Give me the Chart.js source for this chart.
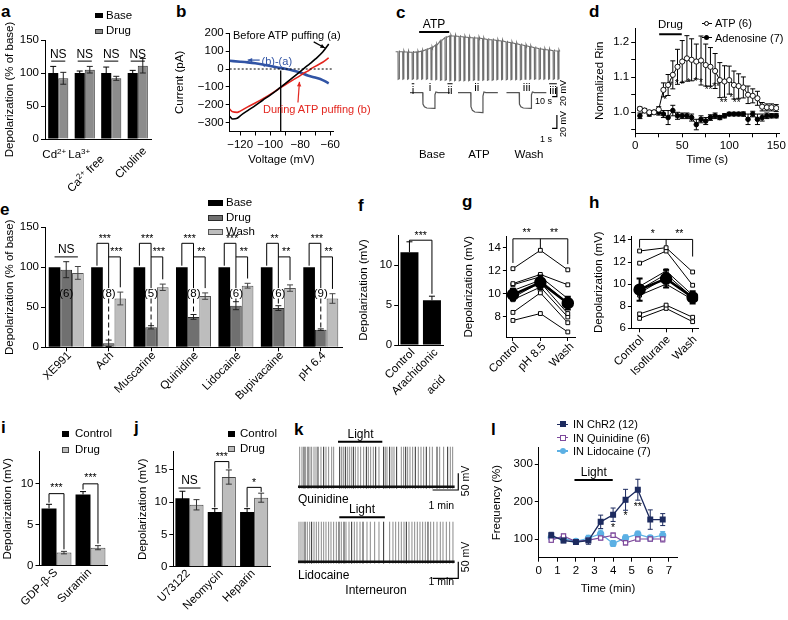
<!DOCTYPE html>
<html><head><meta charset="utf-8">
<script src="https://cdn.jsdelivr.net/npm/chart.js@4.4.1/dist/chart.umd.min.js"></script>
<style>
html,body{margin:0;padding:0;background:#fff;}
body{width:788px;height:620px;position:relative;overflow:hidden;font-family:"Liberation Sans",Arial,Helvetica,sans-serif;}
canvas{position:absolute;}
.t{position:absolute;white-space:nowrap;color:#000;font-size:11.5px;line-height:1;}
.t sup{font-size:8px;vertical-align:4px;line-height:0;}
</style></head><body>
<script>
// ================= DATA =================
// a
const aCats = ['Cd2+', 'La3+', 'Ca2+ free', 'Choline'];
const aBase = [100, 100, 100, 100];
const aBaseErr = [10, 3, 9, 4];
const aDrug = [92, 105, 92, 111];
const aDrugErr = [9, 5, 3, 11];
const aSig = ['NS', 'NS', 'NS', 'NS'];
const aYTicks = [0, 50, 100, 150];
// b
const bVolt = [-127,-125,-122,-120,-115,-110,-105,-100,-95,-93,-90,-85,-80,-78,-75,-73,-70,-65,-61];
const bBefore = [-265,-280,-276,-262,-233,-205,-175,-146,-115,-102,-82,-48,-14,0,20,33,55,95,140];
const bDuring = [-225,-240,-243,-236,-212,-190,-167,-143,-115,-104,-88,-62,-37,-25,-12,0,15,38,62];
const bDiffVolt = [-127,-120,-115,-110,-105,-100,-95,-90,-85,-80,-75,-70,-65,-61];
const bDiff = [46,41,37,32,25,17,9,1,-8,-20,-36,-48,-62,-80];
const bXTicks = [-120,-110,-100,-90,-80,-70,-60];
const bYTicks = [-300,-200,-100,0,100,200];
// c
const cBaseline = [-65,-65,-65.5,-66,-65.5,-63.5,-60.5,-57,-51.5,-43,-36.5,-33.5,-33.5,-34.5,-35.5,-36.5,-37,-37.5,-39,-40.5,-41,-42.5,-43.5,-45.5,-47,-49,-51,-53,-55,-57,-59,-60.5,-61.5,-63,-63.5];
const cPulseBottom = [-120,-120,-120,-120,-120,-120,-120,-121,-121,-122,-122,-123,-123,-123,-123,-123,-122,-122,-122,-122,-122,-121,-121,-121,-121,-121,-121,-120,-120,-120,-120,-120,-120,-120,-120];
const cPulseInterval = 10;
const cATP = [50, 114];
const cInsetTime = [0, 2.65, 2.7, 3.0, 3.5, 5.15, 5.2, 5.4, 5.8, 8.3];
const cInsetBase = [-65,-65,-82,-86,-88,-88.5,-68,-64,-65,-65];
const cInsetATP = [-65,-65,-86,-91.5,-94,-95,-70,-64,-65,-65];
const cInsetWash = [-65,-65,-82,-86,-88,-88.5,-68,-64,-65,-65];
// d
const dTime = [5,10,15,20,25,30,35,40,45,50,55,60,65,70,75,80,85,90,95,100,105,110,115,120,125,130,135,140,145,150];
const dATP = [1.01,1.005,1.0,1.0,1.008,1.064,1.078,1.107,1.13,1.145,1.154,1.15,1.145,1.148,1.135,1.13,1.118,1.092,1.088,1.092,1.078,1.075,1.071,1.05,1.047,1.04,1.016,1.014,1.014,1.012];
const dATPErr = [0.005,0.005,0.005,0.005,0.008,0.02,0.03,0.04,0.05,0.06,0.065,0.06,0.05,0.07,0.06,0.055,0.05,0.05,0.045,0.04,0.04,0.035,0.03,0.025,0.02,0.02,0.012,0.01,0.01,0.01];
const dAdo = [0.99,1.005,0.995,1.0,1.0,0.995,0.985,1.005,0.99,0.99,0.99,0.985,0.965,0.98,0.975,0.985,0.99,0.985,0.99,0.995,0.995,0.995,0.995,0.98,0.995,0.98,0.985,0.99,0.99,0.99];
const dAdoErr = [0.008,0.006,0.006,0.005,0.008,0.01,0.02,0.015,0.01,0.008,0.008,0.01,0.015,0.01,0.01,0.008,0.008,0.006,0.006,0.005,0.005,0.005,0.006,0.015,0.008,0.015,0.01,0.008,0.006,0.006];
const dXTicks = [0,25,50,75,100,125,150];
const dYTicks = [0.95,1.0,1.05,1.1,1.15,1.2];
// e
const eCats = ['XE991','Ach','Muscarine','Quinidine','Lidocaine','Bupivacaine','pH 6.4'];
const eBase = [100,100,100,100,100,100,100];
const eDrug = [97,5,25,38,52,49,22];
const eDrugErr = [10,4,2,3,5,3,1];
const eWash = [93,61,75,64,77,74,61];
const eWashErr = [8,8,4,4,3,4,6];
const eN = ['(6)','(8)','(5)','(8)','(6)','(6)','(9)'];
const eSig1 = ['NS','***','***','***','***','**','***'];
const eSig2 = ['','***','***','**','**','**','**'];
const eYTicks = [0, 50, 100, 150];
// f
const fCats = ['Control', 'Arachidonic acid'];
const fVals = [11.6, 5.6];
const fErr = [1.3, 0.5];
const fYTicks = [0, 5, 10];
// g
const gCats = ['Control','pH 8.5','Wash'];
const gCells = [[12.2,13.8,12.1],[10.9,11.7,10.8],[10.8,11.5,9.6],[10.3,11.2,9.2],[9.7,11.0,8.3],[9.5,10.6,8.0],[8.4,10.1,7.5],[7.7,8.3,6.7]];
const gMean = [9.95,11.0,9.2];
const gMeanErr = [0.5,0.6,0.55];
const gYTicks = [8, 10, 12, 14];
// h
const hCats = ['Control','Isoflurane','Wash'];
const hCells = [[13.0,13.3,11.1],[11.9,13.0,9.9],[9.8,11.2,9.0],[9.5,10.9,8.8],[9.2,10.6,8.7],[9.0,10.0,8.6],[7.3,8.1,7.0],[6.9,7.8,6.6]];
const hMean = [9.5,10.5,8.8];
const hMeanErr = [1.0,0.8,0.55];
const hYTicks = [6, 8, 10, 12, 14];
// i
const iCats = ['GDP-β-S','Suramin'];
const iCtrl = [7.0, 8.7];
const iCtrlErr = [0.5, 0.35];
const iDrug = [1.6, 2.2];
const iDrugErr = [0.15, 0.25];
const iYTicks = [0, 5, 10];
// j
const jCats = ['U73122','Neomycin','Heparin'];
const jCtrl = [10.6, 8.5, 8.5];
const jCtrlErr = [1.1, 0.5, 0.5];
const jDrug = [9.6, 13.9, 10.7];
const jDrugErr = [0.8, 1.1, 0.7];
const jYTicks = [0, 5, 10, 15];
// k (spike times in s)
const kTopGray = [3.9,9.3,17.9,28.0,31.9,37.4,42.1,53.7,65.4,71.6,78.7,83.3,102.0,105.9,115.3,119.9,124.6,134.0,140.2,146.4,153.4,164.3,169.8,176.0,189.2,204.0,207.9,219.6,224.3,241.4,246.9,256.2,261.7,267.9,281.1,287.4,293.6,307.6,313.9,331.0,340.3,355.9,361.4];
const kTopDark = [14.0,23.4,46.7,60.0,97.4,110.6,129.3,159.7,181.5,200.1,214.2,230.5,251.6,274.1,299.8,324.8,349.7];
const kBotGray = [2.3,7.0,11.7,21.8,27.3,37.4,42.8,48.3,54.5,60.0,65.4,71.6,77.1,83.3,89.6,101.2,112.1,119.2,131.6,137.8,144.9,161.2,169.0,179.1,189.2,214.2,221.9,228.2,235.2,241.4,247.7,259.3,266.3,272.6,278.8,285.0,291.3,297.5,310.0,317.0,324.8,332.5,338.8,346.6,354.3,362.1];
const kBotDark = [16.4,31.9,95.8,107.5,125.4,151.9,200.1,253.1,303.7];
const kRest = -60, kPeak = 60, kTraceEnd = 366;
const kLightTop = [93.5, 197];
const kLightBot = [96.5, 203];
// l
const lT = [0.67,1.33,2,2.67,3.33,4,4.67,5.33,6,6.67];
const lChR2 = [110,96,92,96,146,165,205,232,152,152];
const lChR2Err = [8,6,5,10,18,18,28,28,26,16];
const lQuin = [97,108,93,97,103,110,90,100,100,100];
const lQuinErr = [6,5,4,5,6,6,6,5,6,8];
const lLido = [104,101,94,102,114,88,103,113,103,110];
const lLidoErr = [10,8,5,8,10,8,8,8,6,10];
const lLight = [1.92, 3.98];
const lXTicks = [0,1,2,3,4,5,6,7];
const lYTicks = [100, 200, 300];

// ================= SETUP =================
const FONT = '"Liberation Sans", Arial, Helvetica, sans-serif';
Chart.defaults.font.family = FONT;
Chart.defaults.font.size = 11.5;
Chart.defaults.color = '#000';
Chart.defaults.animation = false;
Chart.defaults.responsive = false;
Chart.defaults.maintainAspectRatio = false;
Chart.defaults.devicePixelRatio = 1;
Chart.defaults.events = [];
Chart.defaults.plugins.legend.display = false;
Chart.defaults.plugins.tooltip.enabled = false;

const ANN = {};
function resolveX(chart, v) {
  if (Array.isArray(v)) {
    const ds = v[0], i = v[1], dx = v[2] || 0;
    const f = Math.floor(ds), c = Math.ceil(ds);
    const xf = chart.getDatasetMeta(f).data[i].x, xc = chart.getDatasetMeta(c).data[i].x;
    return xf + (xc - xf) * (ds - f) + dx;
  }
  return chart.scales.x.getPixelForValue(v);
}
const annotPlugin = {
  id: 'annot',
  afterDraw(chart) {
    const items = ANN[chart.canvas.id]; if (!items) return;
    const ctx = chart.ctx, ys = chart.scales.y;
    const Y = v => v === null ? chart.chartArea.bottom : ys.getPixelForValue(v);
    for (const it of items) {
      ctx.save();
      if (it.pts) {
        ctx.beginPath(); ctx.setLineDash(it.dash || []); ctx.strokeStyle = it.color || '#000'; ctx.lineWidth = it.w || 1;
        const P = it.pts.map(p => [resolveX(chart, p[0]), Y(p[1])]);
        P.forEach((p, k) => k ? ctx.lineTo(p[0], p[1]) : ctx.moveTo(p[0], p[1]));
        ctx.stroke();
        if (it.arrow) {
          const a = P[P.length - 2], b = P[P.length - 1];
          const ang = Math.atan2(b[1] - a[1], b[0] - a[0]), L = it.arrow;
          ctx.setLineDash([]); ctx.fillStyle = it.color || '#000';
          ctx.beginPath(); ctx.moveTo(b[0], b[1]);
          ctx.lineTo(b[0] - L * Math.cos(ang - 0.45), b[1] - L * Math.sin(ang - 0.45));
          ctx.lineTo(b[0] - L * Math.cos(ang + 0.45), b[1] - L * Math.sin(ang + 0.45));
          ctx.closePath(); ctx.fill();
        }
      }
      if (it.text !== undefined) {
        const x = resolveX(chart, it.x) + (it.dx || 0), y = Y(it.y) + (it.dy || 0);
        ctx.fillStyle = it.color || '#000'; ctx.textBaseline = 'middle';
        ctx.font = (it.size || 11) + 'px ' + FONT; ctx.textAlign = it.align || 'center';
        ctx.fillText(it.text, x, y);
      }
      ctx.restore();
    }
  }
};
function drawErr(chart, before) {
  const ctx = chart.ctx;
  chart.data.datasets.forEach((ds, di) => {
    if (!ds.errors || (!!ds.errBefore) !== before) return;
    const meta = chart.getDatasetMeta(di);
    const ys = chart.scales[meta.yAxisID];
    ctx.save(); ctx.strokeStyle = ds.errColor || '#000'; ctx.lineWidth = ds.errWidth || 1; ctx.setLineDash([]);
    meta.data.forEach((el, i) => {
      const e = ds.errors[i]; if (!e) return;
      const d = ds.data[i]; const v = (d && typeof d === 'object') ? d.y : d;
      const x = el.x, yt = ys.getPixelForValue(v + e), yb = ys.getPixelForValue(ds.errUp ? v : v - e);
      const c = ds.errCap === undefined ? 3 : ds.errCap;
      ctx.beginPath(); ctx.moveTo(x, yb); ctx.lineTo(x, yt); ctx.moveTo(x - c, yt); ctx.lineTo(x + c, yt);
      if (!ds.errUp) { ctx.moveTo(x - c, yb); ctx.lineTo(x + c, yb); }
      ctx.stroke();
    });
    ctx.restore();
  });
}
const errPlugin = { id: 'errbars', beforeDatasetsDraw(c) { drawErr(c, true); }, afterDatasetsDraw(c) { drawErr(c, false); } };
Chart.register(annotPlugin, errPlugin);

function ax(extra) {
  const base = {
    border: { display: true, color: '#000', width: 1 },
    grid: { display: true, drawOnChartArea: false, drawTicks: true, tickLength: 4, color: '#000', offset: false, lineWidth: 1 },
    ticks: { color: '#000', font: { size: 11.5 }, padding: 2, autoSkip: false, maxRotation: 0, minRotation: 0, includeBounds: false },
  };
  for (const k in extra) {
    if (base[k] && typeof extra[k] === 'object' && !Array.isArray(extra[k])) base[k] = Object.assign({}, base[k], extra[k]);
    else base[k] = extra[k];
  }
  return base;
}
const tk = vals => s => { s.ticks = vals.map(v => ({ value: v })); };
const T = (text) => ({ display: true, text, font: { size: 11.5 }, color: '#000', padding: { top: 4, bottom: 4 } });
const xy = (xs, ys) => xs.map((x, i) => ({ x, y: ys[i] }));
const minus = v => (v < 0 ? '\u2212' : '') + Math.abs(v);

function canvasAt(id, cv) {
  const c = document.createElement('canvas'); c.id = id;
  const w = Math.round(cv[2] - cv[0]), h = Math.round(cv[3] - cv[1]);
  c.width = w; c.height = h; c.style.left = cv[0] + 'px'; c.style.top = cv[1] + 'px';
  c.style.width = w + 'px'; c.style.height = h + 'px';
  document.body.appendChild(c); return [c, w, h];
}
function make(id, cv, pa, cfg) {
  const [c, w, h] = canvasAt(id, cv);
  const o = cfg.options || (cfg.options = {});
  o.layout = { padding: { left: 0, top: pa[1] - cv[1], right: cv[0] + w - pa[2], bottom: 0 } };
  const yW = pa[0] - cv[0], xH = cv[1] + h - pa[3];
  o.scales.y.afterFit = s => { s.width = yW; };
  o.scales.x.afterFit = s => { s.height = xH; };
  const ch = new Chart(c, cfg);
  ch.$cv = cv;
  return ch;
}
function makeRaw(id, cv, xr, yr, datasets) {
  const [c] = canvasAt(id, cv);
  return new Chart(c, { type: 'line', data: { datasets }, options: {
    layout: { padding: 0 }, elements: { point: { radius: 0 } },
    scales: { x: { type: 'linear', display: false, min: xr[0], max: xr[1] }, y: { display: false, min: yr[0], max: yr[1] } } } });
}
function tx(s, x, y, o = {}) {
  const d = document.createElement('div'); d.className = 't';
  if (o.html) d.innerHTML = o.html; else d.textContent = s;
  d.style.left = x + 'px'; d.style.top = y + 'px';
  if (o.size) d.style.fontSize = o.size + 'px';
  if (o.color) d.style.color = o.color;
  if (o.bold) d.style.fontWeight = 'bold';
  if (o.over) { d.style.textDecoration = 'overline'; }
  let tr = o.a === 'tl' ? '' : o.a === 'l' ? 'translate(0,-50%)' : 'translate(-50%,-50%)';
  if (o.rot) tr += ' rotate(' + o.rot + 'deg)';
  d.style.transform = tr;
  document.body.appendChild(d); return d;
}
// rotated category label whose right-middle point sits at (ax, ay) in page coordinates
function rotTxt(s, ax, ay, rot, size) {
  const d = document.createElement('div'); d.className = 't'; d.textContent = s;
  const fs = size || 11.5; d.style.fontSize = fs + 'px';
  d.style.right = (788 - ax) + 'px'; d.style.top = (ay - fs / 2) + 'px';
  d.style.transformOrigin = '100% 50%'; d.style.transform = 'rotate(' + rot + 'deg)';
  document.body.appendChild(d); return d;
}
// place category labels from the chart's own x scale
function catLabels(ch, cats, dx, dy) {
  const cv = ch.$cv;
  cats.forEach((c, i) => rotTxt(c, cv[0] + ch.scales.x.getPixelForValue(i) + dx, cv[1] + ch.chartArea.bottom + dy, -45));
}
function el(x, y, w, h, css) {
  const d = document.createElement('div');
  d.style.cssText = 'position:absolute;box-sizing:border-box;left:' + x + 'px;top:' + y + 'px;width:' + w + 'px;height:' + h + 'px;' + css;
  document.body.appendChild(d); return d;
}
const hideX = () => ax({ ticks: { display: false }, grid: { drawTicks: false, tickLength: 0 } });

// ================= PANEL LETTERS =================
[['a',1,3],['b',176,3],['c',396,4],['d',589,3],['e',0,201],['f',358,197],['g',462,193],['h',589,194],['i',1,419],['j',134,419],['k',294,421],['l',491,421]]
  .forEach(p => tx(p[0], p[1], p[2], { a: 'tl', size: 17, bold: true }));

// ================= a =================
ANN.ca = [];
aCats.forEach((c, i) => {
  ANN.ca.push({ pts: [[[0, i, -2], 118], [[1, i, 2], 118]] });
  ANN.ca.push({ text: aSig[i], x: [0.5, i], y: 128.5, size: 12 });
});
const chA = make('ca', [-1, 18, 156, 200], [45, 40, 151, 139], {
  type: 'bar',
  data: { labels: aCats, datasets: [
    { data: aBase, backgroundColor: '#000', errors: aBaseErr, categoryPercentage: 0.76, barPercentage: 1 },
    { data: aDrug, backgroundColor: '#8c8c8c', borderColor: '#333', borderWidth: 1, errors: aDrugErr, errColor: '#222', categoryPercentage: 0.76, barPercentage: 1 }] },
  options: { scales: {
    x: hideX(),
    y: ax({ min: 0, max: 150, afterBuildTicks: tk(aYTicks), title: T('Depolarization (% of base)') }) } }
});
{ // category labels with superscript charges
  const sx = i => chA.$cv[0] + chA.scales.x.getPixelForValue(i), by = chA.$cv[1] + chA.chartArea.bottom;
  const supHtml = s => s.replace(/(\d?[+-])(?=\s|$)/, '<sup>$1</sup>');
  tx('', sx(0) - 4, by + 16, { html: supHtml(aCats[0]) });
  tx('', sx(1) - 5.5, by + 16, { html: supHtml(aCats[1]) });
  tx('', sx(2) - 25.5, by + 35, { html: supHtml(aCats[2]).replace('Ca2<sup>+</sup>', 'Ca2<sup>+</sup>'), rot: -45 });
  tx('', sx(3) - 7, by + 24, { html: aCats[3], rot: -45 });
}
el(95, 13, 8, 5, 'background:#000'); tx('Base', 106, 15.7, { a: 'l' });
el(95, 28.5, 8, 5, 'background:#8c8c8c;border:1px solid #333'); tx('Drug', 106, 31, { a: 'l' });

// ================= b =================
ANN.cb = [
  { pts: [[-127, 0], [-59, 0]], dash: [2, 2], w: 1 },
  { pts: [[-93, -8], [-93, -350]], w: 1.3 },
  { pts: [[-71, 152], [-63.5, 118]], arrow: 5, w: 1.2 },
  { pts: [[-107, 50], [-115, 50]], arrow: 5, w: 1.2, color: '#3154a5' },
  { pts: [[-81.5, -188], [-80.5, -72]], arrow: 5, w: 1.2, color: '#e3261f' }
];
make('cb', [168.8, 20, 345, 171.2], [229.5, 33.3, 333, 131.5], {
  type: 'line',
  data: { datasets: [
    { data: xy(bVolt, bBefore), borderColor: '#000', borderWidth: 1.6, cubicInterpolationMode: 'monotone' },
    { data: xy(bVolt, bDuring), borderColor: '#e3261f', borderWidth: 1.6, cubicInterpolationMode: 'monotone' },
    { data: xy(bDiffVolt, bDiff), borderColor: '#3154a5', borderWidth: 2.6, cubicInterpolationMode: 'monotone' }] },
  options: { elements: { point: { radius: 0 } }, scales: {
    x: ax({ type: 'linear', min: -127, max: -58, afterBuildTicks: tk(bXTicks), ticks: { callback: v => v % 20 === 0 ? minus(v) : '' }, title: T('Voltage (mV)') }),
    y: ax({ min: -350, max: 200, afterBuildTicks: tk(bYTicks), ticks: { callback: v => minus(v) }, title: T('Current (pA)') }) } }
});
tx('Before ATP puffing (a)', 233, 35, { a: 'l', size: 11 });
tx('(b)-(a)', 261.5, 60.5, { a: 'l', size: 11, color: '#3154a5' });
tx('During ATP puffing (b)', 263, 108.5, { a: 'l', size: 11, color: '#e3261f' });

// ================= c =================
const cTrace = [{ x: 0, y: cBaseline[0] }];
cBaseline.forEach((b, k) => {
  const t = 5 + k * cPulseInterval;
  cTrace.push({ x: t, y: b }, { x: t + 0.3, y: cPulseBottom[k] }, { x: t + 2.2, y: cPulseBottom[k] + 1 }, { x: t + 2.5, y: b + 2.5 }, { x: t + 3.5, y: b });
});
cTrace.push({ x: 350, y: cBaseline[cBaseline.length - 1] });
makeRaw('cc', [390, 25, 565, 100], [-12, 360.3], [-161.6, -11.6], [
  { data: cTrace, borderColor: '#6e6e6e', borderWidth: 1.1 },
  { data: [{ x: cATP[0], y: -25.6 }, { x: cATP[1], y: -25.6 }], borderColor: '#000', borderWidth: 2 },
  { data: [{ x: 333, y: -155 }, { x: 343, y: -155 }, { x: 343, y: -135 }], borderColor: '#000', borderWidth: 1.2 }
]);
const cOff = [0, 10, 20.1];
makeRaw('cc2', [405, 85, 565, 135], [-1.04, 32.29], [-128.4, -53.5], [
  { data: cInsetTime.map((t, j) => ({ x: t + cOff[0], y: cInsetBase[j] })), borderColor: '#555', borderWidth: 1.2 },
  { data: cInsetTime.map((t, j) => ({ x: t + cOff[1], y: cInsetATP[j] })), borderColor: '#555', borderWidth: 1.2 },
  { data: cInsetTime.map((t, j) => ({ x: t + cOff[2], y: cInsetWash[j] })), borderColor: '#555', borderWidth: 1.2 },
  { data: [{ x: 29.6, y: -118.4 }, { x: 30.6, y: -118.4 }, { x: 30.6, y: -98.4 }], borderColor: '#000', borderWidth: 1.2 }
]);
tx('ATP', 434, 24, { size: 12 });
tx('i', 413, 90.5, { over: true }); tx('ii', 450, 90.5, { over: true }); tx('iii', 553, 90.5, { over: true });
tx('i', 430, 87.5); tx('ii', 476.7, 87.5); tx('iii', 526.7, 87.5);
tx('10 s', 543.5, 100.5, { size: 9 }); tx('20 mV', 563, 92.5, { size: 9, rot: -90 });
tx('1 s', 546, 138.5, { size: 9 }); tx('20 mV', 563, 124, { size: 9, rot: -90 });
tx('Base', 432, 155, { size: 11.5 }); tx('ATP', 479, 155, { size: 11.5 }); tx('Wash', 529, 155, { size: 11.5 });

// ================= d =================
ANN.cd = [
  { pts: [[25.5, 1.223], [49.5, 1.223]], w: 2 },
  ...[[32,1.035,'*'],[38,1.075,'*'],[44,1.08,'*'],[50,1.078,'*'],[57,1.082,'*'],[64,1.085,'*'],[70,1.082,'*'],[78,1.062,'**'],[86,1.073,'**'],[94,1.026,'**'],[102,1.04,'*'],[108,1.026,'**']]
    .map(s => ({ text: s[2], x: s[0], y: s[1], size: 10 }))
];
make('cd', [588.8, 18, 788, 171.2], [635, 28.3, 779.4, 133.3], {
  type: 'line',
  data: { datasets: [
    { data: xy(dTime, dATP), borderColor: '#000', borderWidth: 1, pointStyle: 'circle', pointRadius: 2.6, pointBackgroundColor: '#fff', pointBorderColor: '#000', pointBorderWidth: 0.9, errors: dATPErr, errBefore: true, errCap: 2.5 },
    { data: xy(dTime, dAdo), borderColor: '#000', borderWidth: 1, pointStyle: 'circle', pointRadius: 2.3, pointBackgroundColor: '#000', pointBorderColor: '#000', errors: dAdoErr, errBefore: true, errCap: 2.5 }] },
  options: { scales: {
    x: ax({ type: 'linear', min: 0, max: 153, afterBuildTicks: tk(dXTicks), ticks: { callback: v => v % 50 === 0 ? String(v) : '' }, title: T('Time (s)') }),
    y: ax({ min: 0.94, max: 1.24, afterBuildTicks: tk(dYTicks), ticks: { callback: v => { const r = Math.round(v * 10); return Math.abs(v * 10 - r) < 1e-6 ? (r / 10).toFixed(1) : ''; } }, title: T('Normalized Rin') }) } }
});
tx('Drug', 670.5, 25, { size: 11.5 });
el(701.7, 22.8, 10, 1, 'background:#000'); el(704.2, 20.8, 5, 5, 'background:#fff;border:1px solid #000;border-radius:50%'); tx('ATP (6)', 715, 23.3, { a: 'l', size: 11 });
el(701.7, 37.2, 10, 1, 'background:#000'); el(704.2, 35.2, 5, 5, 'background:#000;border-radius:50%'); tx('Adenosine (7)', 715, 37.7, { a: 'l', size: 11 });

// ================= e =================
ANN.ce = [];
eCats.forEach((c, i) => {
  if (i === 0) {
    ANN.ce.push({ pts: [[[0, 0], 113], [[2, 0], 113]] });
    ANN.ce.push({ text: eSig1[0], x: [1, 0], y: 122.5, size: 12 });
  } else {
    ANN.ce.push({ pts: [[[0, i], 102], [[0, i], 130], [[1, i], 130], [[1, i], 74]] });
    ANN.ce.push({ pts: [[[1, i], 61], [[1, i], eDrug[i] + eDrugErr[i]]], dash: [5, 3] });
    ANN.ce.push({ pts: [[[1, i], 113], [[2, i], 113], [[2, i], eWash[i] + eWashErr[i] + 6]] });
    ANN.ce.push({ text: eSig1[i], x: [0.5, i, 2], y: 135.5, size: 10.5 });
    ANN.ce.push({ text: eSig2[i], x: [1.5, i, 2], y: 118.5, size: 10.5 });
  }
  ANN.ce.push({ text: eN[i], x: [1, i], y: 67, size: 11.5 });
});
const chE = make('ce', [-1, 218, 348, 410], [45, 227.3, 342, 347.3], {
  type: 'bar',
  data: { labels: eCats, datasets: [
    { data: eBase, backgroundColor: '#000', categoryPercentage: 0.825, barPercentage: 1 },
    { data: eDrug, backgroundColor: '#707070', borderColor: '#2b2b2b', borderWidth: 1, errors: eDrugErr, errColor: '#222', categoryPercentage: 0.825, barPercentage: 1 },
    { data: eWash, backgroundColor: '#bdbdbd', borderColor: '#555', borderWidth: 1, errors: eWashErr, errColor: '#444', categoryPercentage: 0.825, barPercentage: 1 }] },
  options: { scales: {
    x: ax({ ticks: { display: false } }),
    y: ax({ min: 0, max: 150, afterBuildTicks: tk(eYTicks), title: T('Depolarization (% of base)') }) } }
});
catLabels(chE, eCats, 3, 6);
el(208, 200, 15, 5.5, 'background:#000'); tx('Base', 226, 202.7, { a: 'l' });
el(208, 215, 15, 5.5, 'background:#707070;border:1px solid #2b2b2b'); tx('Drug', 226, 217.7, { a: 'l' });
el(208, 229, 15, 5.5, 'background:#bdbdbd;border:1px solid #555'); tx('Wash', 226, 231.7, { a: 'l' });

// ================= f =================
ANN.cf = [
  { pts: [[[0, 0], 12.9], [[0, 0], 13.1], [[0, 1], 13.1], [[0, 1], 6.4]] },
  { text: '***', x: 0.5, y: 13.55, size: 10.5 }
];
const chF = make('cf', [352.8, 226, 452, 415], [398, 235, 443, 345], {
  type: 'bar',
  data: { labels: fCats, datasets: [{ data: fVals, backgroundColor: '#000', errors: fErr, errUp: true, categoryPercentage: 0.8, barPercentage: 1 }] },
  options: { scales: {
    x: hideX(),
    y: ax({ min: 0, max: 13.75, afterBuildTicks: tk(fYTicks), title: T('Depolarization (mV)') }) } }
});
{
  const fWords = fCats[1].split(' ');
  const sx = i => chF.$cv[0] + chF.scales.x.getPixelForValue(i), by = chF.$cv[1] + chF.chartArea.bottom;
  rotTxt(fCats[0], sx(0) + 4, by + 6, -45);
  rotTxt(fWords[0], sx(1) + 4, by + 6, -45);
  tx(fWords[1], sx(1) + 4, by + 40, { rot: -45 });
}

// ================= g / h =================
function pairChart(id, cv, pa, cats, cells, mean, meanErr, yr, xr, yt, lab, ann) {
  const ds = [{ data: mean.map((v, i) => ({ x: i, y: v })), borderColor: '#000', borderWidth: 2.5, pointStyle: 'circle', pointRadius: 5, pointBackgroundColor: '#000', pointBorderColor: '#000', errors: meanErr, errWidth: 2, errCap: 3 }];
  cells.forEach(c => ds.push({ data: c.map((v, i) => ({ x: i, y: v })), borderColor: '#000', borderWidth: 1, pointStyle: 'rect', pointRadius: 2.7, pointBackgroundColor: '#fff', pointBorderColor: '#000', pointBorderWidth: 1 }));
  ANN[id] = ann;
  const ch = make(id, cv, pa, {
    type: 'line', data: { datasets: ds },
    options: { scales: {
      x: ax({ type: 'linear', min: xr[0], max: xr[1], afterBuildTicks: tk(cats.map((c, i) => i)), ticks: { display: false } }),
      y: ax({ min: yr[0], max: yr[1], afterBuildTicks: tk(yt), title: T('Depolarization (mV)') }) } }
  });
  catLabels(ch, cats, lab[0], lab[1]);
}
pairChart('cg', [457.8, 222, 583, 400], [506.7, 236.5, 575, 337], gCats, gCells, gMean, gMeanErr, [6.26, 15], [-0.22, 2.27], gYTicks, [4, 8], [
  { pts: [[0, 12.7], [0, 14.8], [2, 14.8], [2, 12.6]] }, { pts: [[1, 14.8], [1, 14.0]] },
  { text: '**', x: 0.5, y: 15.3, size: 10.5 }, { text: '**', x: 1.5, y: 15.3, size: 10.5 }]);
pairChart('ch', [587.8, 222, 706, 400], [631.7, 236, 698, 328.3], hCats, hCells, hMean, hMeanErr, [6, 14.36], [-0.29, 2.21], hYTicks, [3, 9], [
  { pts: [[0, 13.3], [0, 14.05], [2, 14.05], [2, 12.5]] }, { pts: [[1, 14.05], [1, 13.5]] },
  { text: '*', x: 0.5, y: 14.55, size: 10.5 }, { text: '**', x: 1.5, y: 14.55, size: 10.5 }]);

// ================= i =================
ANN.ci = [
  { pts: [[[0, 0], 7.7], [[0, 0], 8.8], [[1, 0], 8.8], [[1, 0], 2.0]] },
  { text: '***', x: 0, y: 9.5, size: 10.5 },
  { pts: [[[0, 1], 9.3], [[0, 1], 10.0], [[1, 1], 10.0], [[1, 1], 2.7]] },
  { text: '***', x: 1, y: 10.7, size: 10.5 }
];
const chI = make('ci', [-3.2, 443, 113, 618], [39.3, 451.7, 107.3, 565.7], {
  type: 'bar',
  data: { labels: iCats, datasets: [
    { data: iCtrl, backgroundColor: '#000', errors: iCtrlErr, errUp: true, categoryPercentage: 0.88, barPercentage: 1 },
    { data: iDrug, backgroundColor: '#bdbdbd', borderColor: '#444', borderWidth: 1, errors: iDrugErr, errColor: '#333', categoryPercentage: 0.88, barPercentage: 1 }] },
  options: { scales: {
    x: hideX(),
    y: ax({ min: 0, max: 13.9, afterBuildTicks: tk(iYTicks), title: T('Depolarization (mV)') }) } }
});
catLabels(chI, iCats, 0, 5);
el(62, 431, 7, 6, 'background:#000'); tx('Control', 75, 434, { a: 'l' });
el(62, 447, 7, 6, 'background:#bdbdbd;border:1px solid #444'); tx('Drug', 75, 450, { a: 'l' });

// ================= j =================
ANN.cj = [
  { pts: [[[0, 0, -4], 12.2], [[1, 0, 4], 12.2]] }, { text: 'NS', x: 0, y: 13.4, size: 12 },
  { pts: [[[0, 1], 9.2], [[0, 1], 16.3], [[1, 1], 16.3], [[1, 1], 15.2]] }, { text: '***', x: 1, y: 17.0, size: 10.5 },
  { pts: [[[0, 2], 9.2], [[0, 2], 12.3], [[1, 2], 12.3], [[1, 2], 11.6]] }, { text: '*', x: 2, y: 13.0, size: 10.5 }
];
const chJ = make('cj', [132, 443, 276, 618], [173.3, 451.7, 270.3, 566.7], {
  type: 'bar',
  data: { labels: jCats, datasets: [
    { data: jCtrl, backgroundColor: '#000', errors: jCtrlErr, categoryPercentage: 0.87, barPercentage: 1 },
    { data: jDrug, backgroundColor: '#bdbdbd', borderColor: '#444', borderWidth: 1, errors: jDrugErr, errColor: '#333', categoryPercentage: 0.87, barPercentage: 1 }] },
  options: { scales: {
    x: hideX(),
    y: ax({ min: 0, max: 17.8, afterBuildTicks: tk(jYTicks), title: T('Depolarization (mV)') }) } }
});
catLabels(chJ, jCats, -1, 5);
el(228, 431, 7, 6, 'background:#000'); tx('Control', 240, 434, { a: 'l' });
el(228, 446, 7, 6, 'background:#bdbdbd;border:1px solid #444'); tx('Drug', 240, 449, { a: 'l' });

// ================= k =================
function spikes(ts) { const d = []; ts.forEach(t => d.push({ x: t, y: kRest - 6 }, { x: t, y: kPeak }, { x: t, y: null })); return d; }
function kChart(id, cv, yr, gray, dark, light, lightY, sb) {
  makeRaw(id, cv, [-7, 401.9], yr, [
    { data: [{ x: 0, y: kRest }, { x: kTraceEnd, y: kRest }], borderColor: '#111', borderWidth: 2.4 },
    { data: spikes(dark), borderColor: '#2a2a2a', borderWidth: 1, spanGaps: false },
    { data: spikes(gray), borderColor: '#8a8a8a', borderWidth: 1, spanGaps: false },
    { data: [{ x: light[0], y: lightY }, { x: light[1], y: lightY }], borderColor: '#000', borderWidth: 2 },
    { data: sb, borderColor: '#000', borderWidth: 1.2 }
  ]);
}
kChart('ck1', [295, 438, 470, 505], [-115, 86.2], kTopGray, kTopDark, kLightTop, 75, [{ x: 314.5, y: -70 }, { x: 374.5, y: -70 }, { x: 374.5, y: -20 }]);
kChart('ck2', [295, 513, 470, 582], [-121, 86.2], kBotGray, kBotDark, kLightBot, 73.3, [{ x: 314.5, y: -110 }, { x: 374.5, y: -110 }, { x: 374.5, y: -60 }]);
tx('Light', 360.5, 433.5, { size: 12 }); tx('Quinidine', 298, 499, { a: 'l', size: 12 });
tx('1 min', 441.3, 505, { size: 10.5 }); tx('50 mV', 465, 481, { size: 10.5, rot: -90 });
tx('Light', 362, 508.5, { size: 12 }); tx('Lidocaine', 298, 575, { a: 'l', size: 12 });
tx('1 min', 441.3, 581, { size: 10.5 }); tx('50 mV', 465, 557, { size: 10.5, rot: -90 });
tx('Interneuron', 376, 589.5, { size: 12 });

// ================= l =================
ANN.cl = [
  { pts: [[lLight[0], 258], [lLight[1], 258]], w: 2 },
  { text: '*', x: 4, y: 130, size: 10.5 }, { text: '*', x: 4.67, y: 160, size: 10.5 }, { text: '**', x: 5.33, y: 186, size: 10.5 }
];
make('cl', [485.5, 437, 688, 599.5], [538.3, 447.5, 676.7, 557.7], {
  type: 'line',
  data: { datasets: [
    { data: xy(lT, lChR2), borderColor: '#1d2b5f', borderWidth: 1.3, pointStyle: 'rect', pointRadius: 3.3, pointBackgroundColor: '#1d2b5f', pointBorderColor: '#1d2b5f', errors: lChR2Err, errColor: '#1d2b5f', errBefore: true, errCap: 2.5 },
    { data: xy(lT, lQuin), borderColor: '#7e4a9c', borderWidth: 1.2, pointStyle: 'rect', pointRadius: 3, pointBackgroundColor: '#fff', pointBorderColor: '#7e4a9c', pointBorderWidth: 1.2, errors: lQuinErr, errColor: '#7e4a9c', errBefore: true, errCap: 2.5 },
    { data: xy(lT, lLido), borderColor: '#5cb0e4', borderWidth: 1.2, pointStyle: 'circle', pointRadius: 3, pointBackgroundColor: '#5cb0e4', pointBorderColor: '#5cb0e4', errors: lLidoErr, errColor: '#5cb0e4', errBefore: true, errCap: 2.5 }] },
  options: { scales: {
    x: ax({ type: 'linear', min: 0, max: 7.45, afterBuildTicks: tk(lXTicks), title: T('Time (min)') }),
    y: ax({ min: 50, max: 345, afterBuildTicks: tk(lYTicks), title: T('Frequency (%)') }) } }
});
tx('Light', 593.8, 471.5, { size: 12 });
[[424.3, '#1d2b5f', 'background:#1d2b5f', 'IN ChR2 (12)'], [437.7, '#7e4a9c', 'background:#fff;border:1.2px solid #7e4a9c', 'IN Quinidine (6)'], [451, '#5cb0e4', 'background:#5cb0e4;border-radius:50%', 'IN Lidocaine (7)']]
  .forEach(r => { el(556.7, r[0] - 0.6, 11.6, 1.2, 'background:' + r[1]); el(559.5, r[0] - 3, 6, 6, r[2]); tx(r[3], 573, r[0], { a: 'l', size: 11 }); });
</script>
</body></html>
